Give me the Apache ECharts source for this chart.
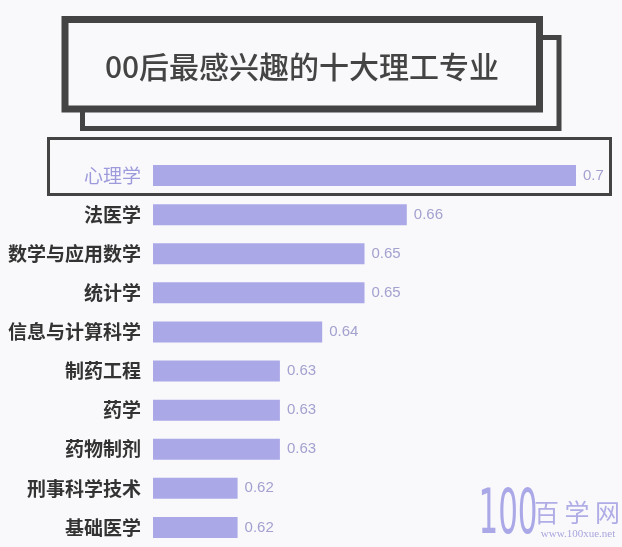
<!DOCTYPE html>
<html>
<head>
<meta charset="utf-8">
<script src="https://cdn.jsdelivr.net/npm/echarts@6/dist/echarts.min.js"></script>
<style>
html,body{margin:0;padding:0;background:#f9f9fb;}
#c{width:622px;height:547px;}
</style>
</head>
<body>
<div id="c"></div>
<script>
const titleText = '00后最感兴趣的十大理工专业';
const categories = ['心理学','法医学','数学与应用数学','统计学','信息与计算科学','制药工程','药学','药物制剂','刑事科学技术','基础医学'];
const values = [0.7, 0.66, 0.65, 0.65, 0.64, 0.63, 0.63, 0.63, 0.62, 0.62];
const axisMin = 0.6;
const axisMax = 0.7;

const chart = echarts.init(document.getElementById('c'), null, {renderer:'canvas'});
const dark = '#444444';
const barColor = '#aba8e8';
const labelColor = '#a3a1cf';
const cjk = '"Noto Sans CJK SC", "Noto Sans", sans-serif';

chart.setOption({
  backgroundColor: '#f9f9fb',
  animation: false,
  grid: {left: 153, right: 46, top: 156, bottom: 0, containLabel: false},
  xAxis: {type: 'value', min: axisMin, max: axisMax, show: false, splitLine: {show: false}},
  yAxis: {
    type: 'category', data: categories, inverse: true,
    axisLine: {show: false}, axisTick: {show: false},
    axisLabel: {
      margin: 12, fontSize: 19, fontFamily: cjk, fontWeight: 'bold',
      color: function (v, i) { return i === 0 ? '#9e9bdc' : '#333333'; },
      formatter: function (v, i) { return i === 0 ? '{hl|' + v + '}' : v; },
      rich: {hl: {fontSize: 19, fontFamily: cjk, fontWeight: 'normal', color: '#9e9bdc'}}
    }
  },
  series: [{
    type: 'bar', data: values, barWidth: 21,
    itemStyle: {color: barColor},
    label: {
      show: true, position: 'right', distance: 7, fontSize: 15,
      fontFamily: '"Liberation Sans", Arial, sans-serif',
      color: labelColor,
      formatter: function (p) { return String(p.value); }
    }
  }],
  graphic: [
    {type: 'rect', z: 10, shape: {x: 82.5, y: 37.5, width: 476.5, height: 91}, style: {fill: 'none', stroke: dark, lineWidth: 5}},
    {type: 'rect', z: 11, shape: {x: 65, y: 19.5, width: 474.5, height: 89.5}, style: {fill: '#f9f9fb', stroke: dark, lineWidth: 7}},
    {type: 'text', z: 12, x: 302, y: 67, style: {text: titleText, fontSize: 30, fontFamily: cjk, fontWeight: 500, fill: dark, align: 'center', verticalAlign: 'middle'}},
    {type: 'rect', z: 10, shape: {x: 48.5, y: 138.5, width: 562, height: 56}, style: {fill: 'none', stroke: dark, lineWidth: 3}},
    {type: 'text', z: 10, x: 508, y: 517, scaleX: 0.5, style: {text: '100', fontSize: 62, fontFamily: '"DejaVu Sans", sans-serif', fill: '#aba8e8', align: 'center', verticalAlign: 'middle'}},
    {type: 'text', z: 10, x: 577, y: 512, style: {text: '百 学 网', fontSize: 25, fontFamily: cjk, fill: '#b0ade6', align: 'center', verticalAlign: 'middle'}},
    {type: 'text', z: 10, x: 578, y: 534, style: {text: 'www.100xue.net', fontSize: 11, fontFamily: '"Liberation Serif", serif', fill: '#a9a6dc', align: 'center', verticalAlign: 'middle'}}
  ]
});
</script>
</body>
</html>
